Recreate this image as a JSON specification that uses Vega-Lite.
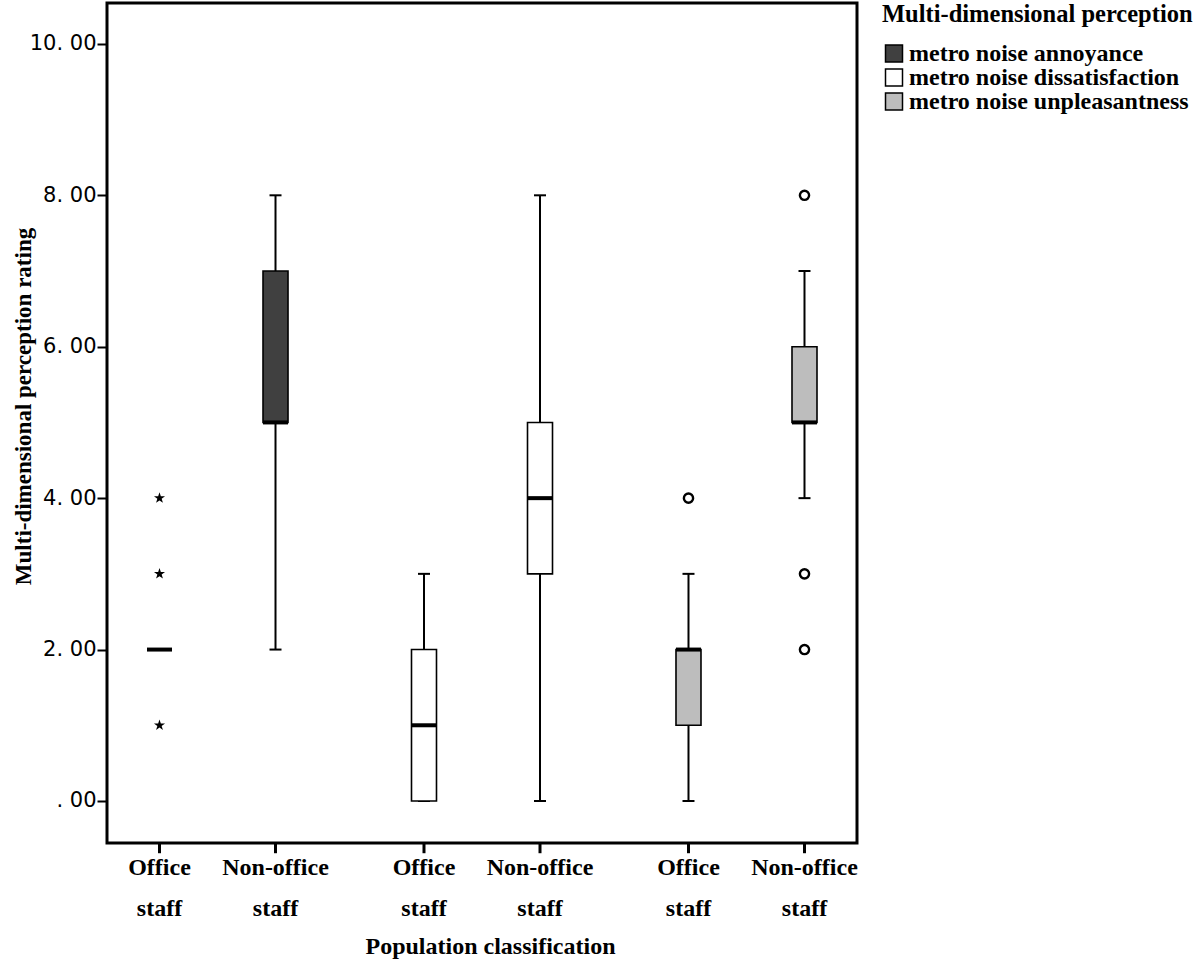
{
  "$schema": "https://vega.github.io/schema/vega-lite/v6.json",
  "autosize": {"type": "none"},
  "padding": {"left": 107, "top": 3, "right": 343, "bottom": 124},
  "width": 750,
  "height": 840,
  "background": "white",
  "datasets": {
    "boxes": [
      {"dimension": "metro noise annoyance", "staff": "Office staff", "lower": 2, "q1": 2, "median": 2, "q3": 2, "upper": 2},
      {"dimension": "metro noise annoyance", "staff": "Non-office staff", "lower": 2, "q1": 5, "median": 5, "q3": 7, "upper": 8},
      {"dimension": "metro noise dissatisfaction", "staff": "Office staff", "lower": 0, "q1": 0, "median": 1, "q3": 2, "upper": 3},
      {"dimension": "metro noise dissatisfaction", "staff": "Non-office staff", "lower": 0, "q1": 3, "median": 4, "q3": 5, "upper": 8},
      {"dimension": "metro noise unpleasantness", "staff": "Office staff", "lower": 0, "q1": 1, "median": 2, "q3": 2, "upper": 3},
      {"dimension": "metro noise unpleasantness", "staff": "Non-office staff", "lower": 4, "q1": 5, "median": 5, "q3": 6, "upper": 7}
    ],
    "outliers": [
      {"dimension": "metro noise annoyance", "staff": "Office staff", "value": 4, "kind": "extreme"},
      {"dimension": "metro noise annoyance", "staff": "Office staff", "value": 3, "kind": "extreme"},
      {"dimension": "metro noise annoyance", "staff": "Office staff", "value": 1, "kind": "extreme"},
      {"dimension": "metro noise unpleasantness", "staff": "Office staff", "value": 4, "kind": "outlier"},
      {"dimension": "metro noise unpleasantness", "staff": "Non-office staff", "value": 8, "kind": "outlier"},
      {"dimension": "metro noise unpleasantness", "staff": "Non-office staff", "value": 3, "kind": "outlier"},
      {"dimension": "metro noise unpleasantness", "staff": "Non-office staff", "value": 2, "kind": "outlier"}
    ]
  },
  "encoding": {
    "x": {
      "field": "dimension",
      "type": "nominal",
      "sort": ["metro noise annoyance", "metro noise dissatisfaction", "metro noise unpleasantness"],
      "scale": {"paddingInner": 0.2, "paddingOuter": 0.0178},
      "axis": {
        "title": "Population classification",
        "labels": false,
        "ticks": false,
        "domain": false,
        "titleFont": "Liberation Serif",
        "titleFontWeight": "bold",
        "titleFontSize": 24,
        "titleColor": "black",
        "titleBaseline": "alphabetic",
        "titleAlign": "center",
        "titleX": 383,
        "titleY": 110
      }
    },
    "xOffset": {
      "field": "staff",
      "type": "nominal",
      "sort": ["Office staff", "Non-office staff"],
      "scale": {"paddingInner": 0.5, "paddingOuter": 0.162}
    }
  },
  "layer": [
    {
      "data": {"name": "boxes"},
      "mark": {"type": "rule", "color": "black", "strokeWidth": 2},
      "encoding": {
        "y": {
          "field": "lower",
          "type": "quantitative",
          "scale": {"domain": [-0.555, 10.54], "nice": false, "zero": false},
          "axis": {
            "title": "Multi-dimensional perception rating",
            "values": [0, 2, 4, 6, 8, 10],
            "labelExpr": "datum.value == 0 ? '. 00' : format(datum.value, 'd') + '. 00'",
            "grid": false,
            "domain": false,
            "tickColor": "black",
            "tickWidth": 2,
            "tickSize": 10,
            "labelFont": "DejaVu Sans",
            "labelFontSize": 21,
            "labelColor": "black",
            "labelPadding": 1,
            "titleFont": "Liberation Serif",
            "titleFontWeight": "bold",
            "titleFontSize": 23,
            "titleColor": "black",
            "titleAngle": -90,
            "titleAlign": "center",
            "titleBaseline": "alphabetic",
            "titleX": -77,
            "titleY": 403
          }
        },
        "y2": {"field": "upper"}
      }
    },
    {
      "data": {"name": "boxes"},
      "mark": {"type": "tick", "color": "black", "thickness": 2, "size": 12, "opacity": 1},
      "encoding": {
        "y": {"field": "lower", "type": "quantitative"}
      }
    },
    {
      "data": {"name": "boxes"},
      "mark": {"type": "tick", "color": "black", "thickness": 2, "size": 12, "opacity": 1},
      "encoding": {
        "y": {"field": "upper", "type": "quantitative"}
      }
    },
    {
      "data": {"name": "boxes"},
      "mark": {"type": "bar", "width": 25, "stroke": "black", "strokeWidth": 1.6},
      "encoding": {
        "y": {"field": "q1", "type": "quantitative"},
        "y2": {"field": "q3"},
        "color": {
          "field": "dimension",
          "type": "nominal",
          "scale": {
            "domain": ["metro noise annoyance", "metro noise dissatisfaction", "metro noise unpleasantness"],
            "range": ["#404040", "#ffffff", "#bdbdbd"]
          },
          "legend": {
            "title": "Multi-dimensional  perception",
            "orient": "right",
            "offset": 25,
            "titleFont": "Liberation Serif",
            "titleFontWeight": "bold",
            "titleFontSize": 24.5,
            "titleColor": "black",
            "titlePadding": 14,
            "titleLimit": 400,
            "labelFont": "Liberation Serif",
            "labelFontWeight": "bold",
            "labelFontSize": 24,
            "labelColor": "black",
            "labelOffset": 3,
            "labelLimit": 400,
            "symbolType": "square",
            "symbolSize": 289,
            "symbolStrokeColor": "black",
            "symbolStrokeWidth": 1.5,
            "symbolOpacity": 1,
            "rowPadding": 0
          }
        }
      }
    },
    {
      "data": {"name": "boxes"},
      "mark": {"type": "tick", "color": "black", "thickness": 4, "size": 25, "opacity": 1},
      "encoding": {
        "y": {"field": "median", "type": "quantitative"}
      }
    },
    {
      "data": {"name": "outliers"},
      "transform": [{"filter": "datum.kind == 'outlier'"}],
      "mark": {"type": "point", "shape": "circle", "filled": false, "stroke": "black", "strokeWidth": 2.4, "size": 85, "fill": "white", "opacity": 1},
      "encoding": {
        "y": {"field": "value", "type": "quantitative"}
      }
    },
    {
      "data": {"name": "outliers"},
      "transform": [{"filter": "datum.kind == 'extreme'"}],
      "mark": {"type": "point", "shape": "M0,-1L0.23,-0.32L0.95,-0.31L0.37,0.12L0.59,0.81L0,0.4L-0.59,0.81L-0.37,0.12L-0.95,-0.31L-0.23,-0.32Z", "filled": true, "color": "black", "size": 135, "opacity": 1},
      "encoding": {
        "y": {"field": "value", "type": "quantitative"}
      }
    },
    {
      "data": {"name": "boxes"},
      "mark": {"type": "rule", "color": "black", "strokeWidth": 3},
      "encoding": {
        "y": {"datum": -0.555},
        "y2": {"datum": -0.69}
      }
    },
    {
      "data": {"name": "boxes"},
      "mark": {"type": "text", "font": "Liberation Serif", "fontWeight": "bold", "fontSize": 24, "color": "black", "baseline": "alphabetic", "align": "center", "lineBreak": " ", "lineHeight": 41, "dy": 32},
      "encoding": {
        "y": {"datum": -0.555},
        "text": {"field": "staff"}
      }
    }
  ],
  "config": {
    "view": {"stroke": "black", "strokeWidth": 3},
    "axis": {"labelFlush": false}
  }
}
